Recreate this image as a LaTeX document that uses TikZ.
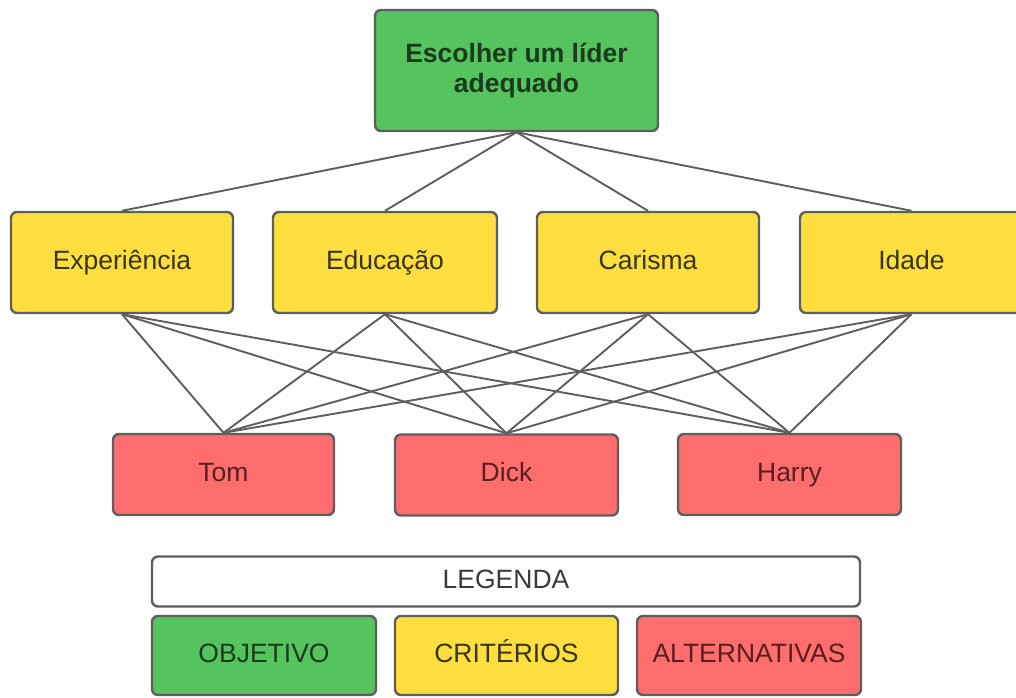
\documentclass[tikz,border=0pt]{standalone}
\usepackage{fontspec}
\setmainfont{Liberation Sans}
\usetikzlibrary{backgrounds}
\definecolor{gfill}{HTML}{55C35E}
\definecolor{yfill}{HTML}{FFDE40}
\definecolor{rfill}{HTML}{FF6E6E}
\definecolor{bord}{HTML}{5E5E5E}
\definecolor{gtext}{HTML}{1C3A1E}
\definecolor{ytext}{HTML}{3A3414}
\definecolor{rtext}{HTML}{5A1E1E}
\definecolor{ltext}{HTML}{3A3A3A}
\tikzset{
  box/.style={draw=bord, line width=2.4pt, rounded corners=6pt, inner sep=0pt,
    align=center, text height=19pt, text depth=5.5pt,
    font=\fontsize{26.5}{30}\selectfont},
  goal/.style={box, fill=gfill, text=gtext, text height=, text depth=,
    font=\fontsize{26.5}{30}\selectfont\bfseries},
  crit/.style={box, fill=yfill, text=ytext},
  alt/.style={box, fill=rfill, text=rtext},
  leg/.style={box, fill=white, text=ltext},
  link/.style={draw=bord, line width=1.9pt}
}
\begin{document}
\begin{tikzpicture}[x=1pt,y=-1pt]
\useasboundingbox (0,0) rectangle (1016,697);
\clip (0,0) rectangle (1016,697);
% nodes
\node[goal, minimum width=283pt, minimum height=121pt] (top) at (516.5,70.5) {Escolher um líder\\adequado};
\node[crit, minimum width=222pt, minimum height=101pt] (exp) at (122,262.5) {Experiência};
\node[crit, minimum width=224pt, minimum height=101pt] (edu) at (385,262.5) {Educação};
\node[crit, minimum width=222pt, minimum height=101pt] (car) at (648,262.5) {Carisma};
\node[crit, minimum width=223pt, minimum height=101pt] (ida) at (911.5,262.5) {Idade};
\node[alt, minimum width=221pt, minimum height=81pt] (tom) at (223.5,474.5) {Tom};
\node[alt, minimum width=223pt, minimum height=81pt] (dick) at (506.5,475) {Dick};
\node[alt, minimum width=223pt, minimum height=81pt] (harry) at (789.5,474.5) {Harry};
\node[leg, minimum width=708pt, minimum height=50pt] (legenda) at (506,581.5) {LEGENDA};
\node[box, fill=gfill, text=gtext, minimum width=224pt, minimum height=79pt] (lobj) at (264,655.5) {OBJETIVO};
\node[box, fill=yfill, text=ytext, minimum width=223pt, minimum height=79pt] (lcri) at (506.5,655.5) {CRITÉRIOS};
\node[box, fill=rfill, text=rtext, minimum width=224pt, minimum height=79pt] (lalt) at (749,655.5) {ALTERNATIVAS};
% connectors
\begin{scope}[on background layer]
\foreach \c in {exp,edu,car,ida} {
  \draw[link] (top.south) -- (\c.north);
  \foreach \a in {tom,dick,harry} {
    \draw[link] (\c.south) -- (\a.north);
  }
}
\end{scope}
\end{tikzpicture}
\end{document}
